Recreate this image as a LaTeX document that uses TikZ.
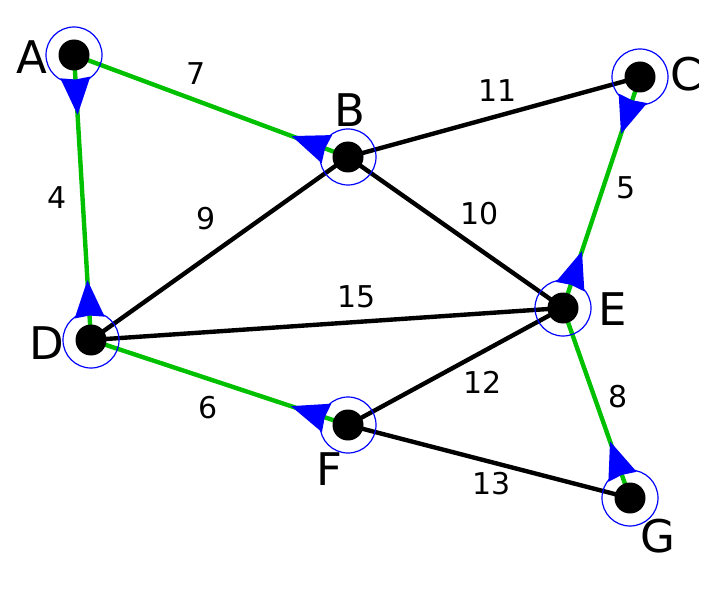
\documentclass[tikz,border=0pt]{standalone}
\usepackage{fontspec}
\setmainfont{DejaVu Sans}
\usetikzlibrary{calc}
\definecolor{mstgreen}{RGB}{0,192,0}
\tikzset{
  edgeblack/.style={line width=4.4pt, black},
  edgegreen/.style={line width=4.4pt, mstgreen},
  dot/.style={circle, fill=black, minimum size=31pt, inner sep=0pt},
  ring/.style={draw=blue, line width=1.2pt},
  weight/.style={inner sep=0pt, font=\fontsize{30}{30}\selectfont},
  vname/.style={inner sep=0pt, font=\fontsize{45}{45}\selectfont},
}
\newcommand\bluearrow[2]{%
  \coordinate (tip#1#2) at ($(#1)!60pt!(#2)$);
  \coordinate (base#1#2) at ($(#1)!22.5pt!(#2)$);
  \fill[blue] (tip#1#2) -- ($(base#1#2)!15pt!90:(tip#1#2)$) -- ($(base#1#2)!2pt!(tip#1#2)$) -- ($(base#1#2)!15pt!-90:(tip#1#2)$) -- cycle;
}
\begin{document}
\begin{tikzpicture}[x=1pt,y=-1pt]
\useasboundingbox (0,0) rectangle (707,599);
\coordinate (A) at (74,55);
\coordinate (B) at (348,157);
\coordinate (C) at (640,77);
\coordinate (D) at (91,340);
\coordinate (E) at (563,308);
\coordinate (F) at (348,425);
\coordinate (G) at (630,498);
% edges
\draw[edgeblack] (B) -- (C);
\draw[edgeblack] (B) -- (D);
\draw[edgeblack] (B) -- (E);
\draw[edgeblack] (D) -- (E);
\draw[edgeblack] (E) -- (F);
\draw[edgeblack] (F) -- (G);
\draw[edgegreen] (A) -- (B);
\draw[edgegreen] (A) -- (D);
\draw[edgegreen] (C) -- (E);
\draw[edgegreen] (D) -- (F);
\draw[edgegreen] (E) -- (G);
% dots
\foreach \v in {A,B,C,D,E,F,G} {
  \node[dot] (dot\v) at (\v) {};
  \draw[ring] (\v) circle[radius=28pt];
}
% arrows
\bluearrow{A}{D}
\bluearrow{D}{A}
\bluearrow{B}{A}
\bluearrow{C}{E}
\bluearrow{E}{C}
\bluearrow{F}{D}
\bluearrow{G}{E}
% weights
\node[weight] (w7) at (196,74) {7};
\node[weight] (w11) at (498,91) {11};
\node[weight] (w4) at (57,198) {4};
\node[weight] (w9) at (206,219) {9};
\node[weight] (w10) at (480,214) {10};
\node[weight] (w5) at (626,188) {5};
\node[weight] (w15) at (357,297) {15};
\node[weight] (w12) at (483,382) {12};
\node[weight] (w6) at (208,408) {6};
\node[weight] (w8) at (618,397) {8};
\node[weight] (w13) at (492,484) {13};
% names
\node[vname] (nA) at (32,57) {A};
\node[vname] (nB) at (350,110) {B};
\node[vname] (nC) at (686,74) {C};
\node[vname] (nD) at (47,343) {D};
\node[vname] (nE) at (613,309) {E};
\node[vname] (nF) at (329,469) {F};
\node[vname] (nG) at (658,536) {G};
\end{tikzpicture}
\end{document}
